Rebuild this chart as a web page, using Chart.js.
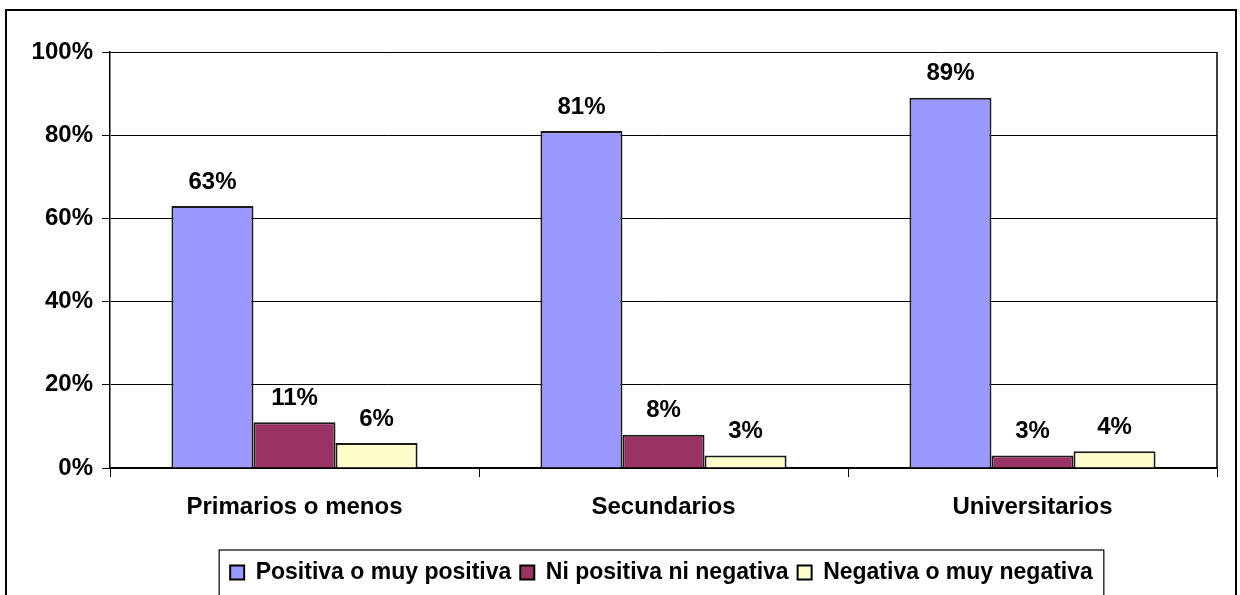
<!DOCTYPE html>
<html>
<head>
<meta charset="utf-8">
<script src="https://cdn.jsdelivr.net/npm/chart.js@4/dist/chart.umd.min.js"></script>
<style>
  html, body { margin: 0; padding: 0; background: #fff; overflow: hidden; }
  #wrap { width: 1240px; height: 625px; }
</style>
</head>
<body>
<div id="wrap"><canvas id="chart" width="1240" height="625"></canvas></div>
<script>
const categories = ['Primarios o menos', 'Secundarios', 'Universitarios'];
const positiva = [63, 81, 89];
const neutra = [11, 8, 3];
const negativa = [6, 3, 4];
const seriesNames = ['Positiva o muy positiva', 'Ni positiva ni negativa', 'Negativa o muy negativa'];
const yTicks = [0, 20, 40, 60, 80, 100];

const fam = '"Liberation Sans", Arial, sans-serif';
const font = { family: fam, weight: 'bold', size: 24 };
const legendFont = { family: fam, weight: 'bold', size: 23 };

// outer frame, plot frame, legend frame, value labels
const framePlugin = {
  id: 'frames',
  afterLayout(chart) {
    // legend sits a bit right of centre in the original
    const lg = chart.legend;
    lg.left += 106;
    lg.width = lg.right - lg.left;
  },
  beforeDraw(chart) {
    const c = chart.ctx;
    c.save();
    c.fillStyle = '#fff';
    c.fillRect(0, 0, chart.width, chart.height);
    c.strokeStyle = '#000';
    c.lineWidth = 2;
    c.strokeRect(6, 10, 1230, 700);
    c.restore();
  },
  afterDraw(chart) {
    const c = chart.ctx;
    const a = chart.chartArea;
    c.save();
    c.strokeStyle = '#000';
    c.lineWidth = 1.5;
    c.beginPath();
    c.moveTo(a.right, a.top);
    c.lineTo(a.right, a.bottom);
    c.stroke();
    // legend border
    const hb = chart.legend.legendHitBoxes;
    if (hb && hb.length) {
      const l = Math.min(...hb.map(h => h.left)) - 11;
      const r = Math.max(...hb.map(h => h.left + h.width)) + 11;
      const t = chart.legend.top - 2;
      c.lineWidth = 1.2;
      c.strokeRect(l, t, r - l, 100);
    }
    c.restore();
  },
  afterDatasetsDraw(chart) {
    const c = chart.ctx;
    c.save();
    c.font = 'bold 24px ' + fam;
    c.fillStyle = '#000';
    c.textAlign = 'center';
    c.textBaseline = 'bottom';
    chart.data.datasets.forEach((ds, i) => {
      chart.getDatasetMeta(i).data.forEach((el, j) => {
        c.fillText(ds.data[j] + '%', el.x, el.y - 12);
      });
    });
    c.restore();
  }
};

new Chart(document.getElementById('chart'), {
  type: 'bar',
  data: {
    labels: categories,
    datasets: [
      { label: seriesNames[0], data: positiva, backgroundColor: '#9999FF', borderColor: '#1a1a1a', borderWidth: 2 },
      { label: seriesNames[1], data: neutra, backgroundColor: '#993366', borderColor: '#1a1a1a', borderWidth: 2 },
      { label: seriesNames[2], data: negativa, backgroundColor: '#FFFFCC', borderColor: '#1a1a1a', borderWidth: 2 }
    ]
  },
  options: {
    responsive: false,
    animation: false,
    layout: { padding: { top: 52, right: 23, left: 0, bottom: 31 } },
    datasets: { bar: { barPercentage: 1, categoryPercentage: 0.667 } },
    scales: {
      x: {
        grid: { drawOnChartArea: false, color: '#000', tickLength: 9, lineWidth: 1 },
        border: { color: '#000', width: 1.5 },
        ticks: { color: '#000', font: font, padding: 16 },
        afterFit(s) { s.height = 84; }
      },
      y: {
        min: 0,
        max: 100,
        afterBuildTicks(s) { s.ticks = yTicks.map(v => ({ value: v })); },
        grid: { color: '#000', tickLength: 8, lineWidth: 1 },
        border: { color: '#000', width: 1.5 },
        ticks: { color: '#000', font: font, padding: 9, callback: v => v + '%' },
        afterFit(s) { s.width = 110; }
      }
    },
    plugins: {
      legend: {
        position: 'bottom',
        labels: {
          color: '#000',
          font: legendFont,
          boxWidth: 14,
          boxHeight: 14,
          padding: 9,
          generateLabels(chart) {
            return chart.data.datasets.map((ds, i) => ({
              text: ds.label,
              fillStyle: ds.backgroundColor,
              strokeStyle: '#000',
              lineWidth: 2,
              datasetIndex: i
            }));
          }
        }
      },
      tooltip: { enabled: false }
    }
  },
  plugins: [framePlugin]
});
</script>
</body>
</html>
